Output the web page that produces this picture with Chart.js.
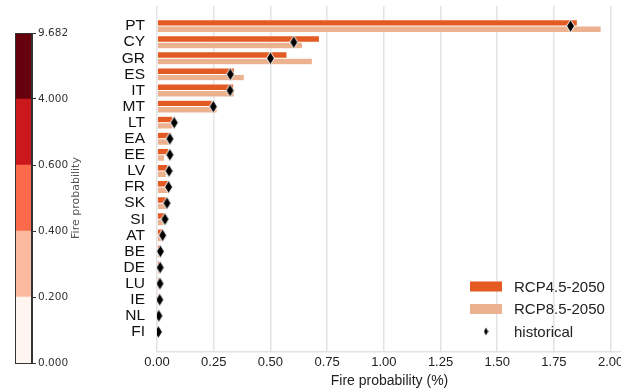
<!DOCTYPE html>
<html>
<head>
<meta charset="utf-8">
<script src="https://cdn.jsdelivr.net/npm/chart.js@4"></script>
<style>
  body { margin: 0; overflow: hidden; background: #fff; }
  #cbarBox { position: absolute; left: 0; top: 0; }
  #mainBox { position: absolute; left: 100px; top: 0; }
</style>
</head>
<body>
<div id="cbarBox"><canvas id="cbar" width="100" height="392"></canvas></div>
<div id="mainBox"><canvas id="main" width="560" height="392"></canvas></div>
<script>
// Chart data
const countries = ['PT', 'CY', 'GR', 'ES', 'IT', 'MT', 'LT', 'EA', 'EE', 'LV',
                   'FR', 'SK', 'SI', 'AT', 'BE', 'DE', 'LU', 'IE', 'NL', 'FI'];
const rcp45 = [1.853, 0.716, 0.573, 0.341, 0.338, 0.243, 0.070, 0.062, 0.052, 0.048,
               0.059, 0.041, 0.037, 0.029, 0.015, 0.012, 0.010, 0.008, 0.012, 0.004];
const rcp85 = [1.958, 0.642, 0.685, 0.385, 0.341, 0.265, 0.070, 0.056, 0.034, 0.041,
               0.056, 0.041, 0.029, 0.022, 0.018, 0.012, 0.010, 0.008, 0.015, 0.004];
const historical = [1.823, 0.603, 0.500, 0.323, 0.322, 0.248, 0.076, 0.057, 0.057, 0.053,
                    0.051, 0.044, 0.035, 0.025, 0.015, 0.014, 0.013, 0.012, 0.008, 0.006];
const xTicks = [0, 0.25, 0.5, 0.75, 1.0, 1.25, 1.5, 1.75, 2.0];

// Colorbar levels (bottom to top)
const cbTicks = ['0.000', '0.200', '0.400', '0.600', '4.000', '9.682'];
const cbColors = ['#fff5f0', '#fcbba1', '#fb6a4a', '#cb181d', '#67000d'];

const SANS = "'Liberation Sans', Arial, sans-serif";

// Thin diamond marker (matplotlib 'd')
function makeDiamond(w, h, edge) {
    const c = document.createElement('canvas');
    c.width = w;
    c.height = h;
    const g = c.getContext('2d');
    g.beginPath();
    g.moveTo(w / 2, 0.5);
    g.lineTo(w - 0.5, h / 2);
    g.lineTo(w / 2, h - 0.5);
    g.lineTo(0.5, h / 2);
    g.closePath();
    g.fillStyle = '#000';
    g.fill();
    if (edge) {
        g.strokeStyle = '#fff';
        g.lineWidth = 1;
        g.stroke();
    }
    return c;
}

const diamond = makeDiamond(9, 14, true);
const smallDiamond = makeDiamond(5, 9, false);

// Legend in the lower right of the plot
const cornerLegend = {
    id: 'cornerLegend',
    afterDraw(chart) {
        const { ctx, chartArea } = chart;
        const x0 = chartArea.right - 152;
        const rowGap = 22.5;
        const n = chart.data.datasets.length;
        ctx.save();
        ctx.font = '15px ' + SANS;
        ctx.textBaseline = 'middle';
        chart.data.datasets.forEach((ds, i) => {
            const y = chartArea.bottom - 20.5 - (n - 1 - i) * rowGap;
            if (ds.type === 'scatter') {
                ctx.drawImage(smallDiamond, x0 + 16 - 2.5, y - 4.5);
            } else {
                ctx.fillStyle = ds.backgroundColor;
                ctx.fillRect(x0, y - 5, 32, 10);
            }
            ctx.fillStyle = '#222';
            ctx.fillText(ds.label, x0 + 44, y + 1);
        });
        ctx.restore();
    }
};

// Main horizontal bar chart
new Chart(document.getElementById('main'), {
    type: 'bar',
    data: {
        datasets: [
            {
                label: 'RCP4.5-2050',
                data: rcp45.map((v, i) => ({ x: v, y: i })),
                backgroundColor: '#e35b22',
                borderColor: '#fff',
                borderWidth: 0.5,
                categoryPercentage: 0.8,
                barPercentage: 1,
                order: 1
            },
            {
                label: 'RCP8.5-2050',
                data: rcp85.map((v, i) => ({ x: v, y: i })),
                backgroundColor: '#ecb290',
                borderColor: '#fff',
                borderWidth: 0.5,
                categoryPercentage: 0.8,
                barPercentage: 1,
                order: 1
            },
            {
                type: 'scatter',
                label: 'historical',
                data: historical.map((v, i) => ({ x: v, y: i })),
                pointStyle: diamond,
                order: 0
            }
        ]
    },
    options: {
        indexAxis: 'y',
        responsive: false,
        animation: false,
        layout: { padding: { top: 6, right: 38, left: 0, bottom: 2 } },
        plugins: {
            legend: { display: false },
            tooltip: { enabled: false }
        },
        scales: {
            x: {
                type: 'linear',
                min: 0,
                max: 2.05,
                afterBuildTicks: axis => { axis.ticks = xTicks.map(v => ({ value: v })); },
                afterFit: axis => { axis.height = 38; },
                grid: { color: '#e3e3e3', lineWidth: 1.5, drawTicks: false },
                border: { color: '#e3e3e3', width: 1.5 },
                ticks: {
                    padding: 3,
                    color: '#222',
                    font: { family: SANS, size: 13 },
                    callback: v => v.toFixed(2)
                },
                title: {
                    display: true,
                    text: 'Fire probability (%)',
                    color: '#222',
                    font: { family: SANS, size: 14 },
                    padding: { top: 2, bottom: 0 }
                }
            },
            y: {
                type: 'linear',
                reverse: true,
                offset: false,
                min: -1.25,
                max: 20.25,
                afterBuildTicks: axis => { axis.ticks = countries.map((c, i) => ({ value: i })); },
                afterFit: axis => {
                    axis.width = 57;
                    axis.paddingTop = 0;
                    axis.paddingBottom = 0;
                },
                grid: { display: false },
                border: { display: false },
                ticks: {
                    autoSkip: false,
                    padding: 4,
                    color: '#111',
                    font: { family: SANS, size: 15.5 },
                    callback: v => countries[v]
                }
            }
        }
    },
    plugins: [cornerLegend]
});

// Colorbar outline and label
const cbarDecor = {
    id: 'cbarDecor',
    afterDraw(chart) {
        const { ctx, chartArea } = chart;
        ctx.save();
        ctx.strokeStyle = '#333';
        ctx.lineWidth = 1;
        ctx.strokeRect(chartArea.left + 0.5, chartArea.top + 0.5,
                       chartArea.right - chartArea.left - 1, chartArea.bottom - chartArea.top);
        ctx.translate(76, (chartArea.top + chartArea.bottom) / 2);
        ctx.rotate(-Math.PI / 2);
        ctx.font = "11px 'DejaVu Sans', sans-serif";
        ctx.fillStyle = '#555';
        ctx.textAlign = 'center';
        ctx.textBaseline = 'middle';
        ctx.fillText('Fire probability', 0, 0);
        ctx.restore();
    }
};

new Chart(document.getElementById('cbar'), {
    type: 'bar',
    data: {
        labels: [''],
        datasets: cbColors.map(c => ({
            data: [1],
            backgroundColor: c,
            barPercentage: 1,
            categoryPercentage: 1
        }))
    },
    options: {
        responsive: false,
        animation: false,
        layout: { padding: { left: 15, top: 33, bottom: 29, right: 0 } },
        plugins: {
            legend: { display: false },
            tooltip: { enabled: false }
        },
        scales: {
            x: { display: false, stacked: true },
            y: {
                stacked: true,
                position: 'right',
                min: 0,
                max: cbColors.length,
                afterBuildTicks: axis => { axis.ticks = cbTicks.map((t, i) => ({ value: i })); },
                afterFit: axis => { axis.width = 68; },
                grid: { drawOnChartArea: false, tickLength: 4, color: '#333' },
                border: { color: '#333' },
                ticks: {
                    padding: 2,
                    color: '#333',
                    font: { family: "'DejaVu Sans', sans-serif", size: 10.5 },
                    callback: v => cbTicks[v]
                }
            }
        }
    },
    plugins: [cbarDecor]
});
</script>
</body>
</html>
